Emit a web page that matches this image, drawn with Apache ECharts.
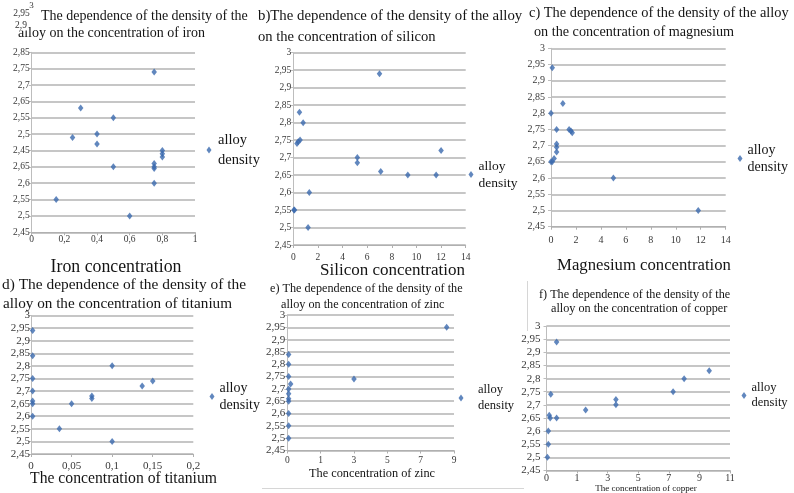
<!DOCTYPE html>
<html>
<head>
<meta charset="utf-8">
<script src="https://cdn.jsdelivr.net/npm/echarts@6/dist/echarts.min.js"></script>
<style>
  html, body { margin: 0; padding: 0; background: #fff; }
  #main { width: 794px; height: 493px; }
</style>
</head>
<body>
<div id="main"></div>
<script>
// a) iron
var ironX = [0.75, 0.3, 0.5, 0.25, 0.4, 0.4, 0.8, 0.8, 0.8, 0.5, 0.75, 0.75, 0.75, 0.75, 0.15, 0.6];
var ironY = [2.94, 2.83, 2.80, 2.74, 2.75, 2.72, 2.70, 2.69, 2.68, 2.65, 2.66, 2.65, 2.645, 2.60, 2.55, 2.50];
// b) silicon
var siliconX = [7, 0.5, 0.8, 0.3, 0.4, 0.55, 5.2, 5.2, 7.1, 9.3, 11.6, 12, 1.3, 0.05, 0.1, 1.2];
var siliconY = [2.94, 2.83, 2.80, 2.74, 2.745, 2.75, 2.70, 2.685, 2.66, 2.65, 2.65, 2.72, 2.60, 2.55, 2.55, 2.50];
// c) magnesium
var magnesiumX = [0.1, 0.95, 0, 0.45, 1.45, 1.6, 1.7, 0.45, 0.45, 0.45, 0, 0.1, 0.25, 5, 11.8];
var magnesiumY = [2.94, 2.83, 2.80, 2.75, 2.75, 2.745, 2.74, 2.705, 2.695, 2.68, 2.65, 2.65, 2.66, 2.60, 2.50];
// d) titanium
var titaniumX = [0.002, 0.002, 0.002, 0.002, 0.002, 0.002, 0.002, 0.1, 0.075, 0.075, 0.05, 0.035, 0.1, 0.137, 0.15];
var titaniumY = [2.94, 2.84, 2.75, 2.70, 2.66, 2.65, 2.60, 2.80, 2.68, 2.67, 2.65, 2.55, 2.50, 2.72, 2.74];
// e) zinc, f) copper: x counted in steps of the printed tick labels
var zincX = [0.04, 0.04, 0.04, 0.1, 0.04, 0.04, 0.04, 0.04, 0.04, 0.04, 0.04, 2.0, 4.78];
var zincY = [2.84, 2.80, 2.75, 2.72, 2.70, 2.68, 2.66, 2.65, 2.60, 2.55, 2.50, 2.74, 2.95];
var copperX = [0.33, 0.14, 0.09, 0.12, 0.33, 1.28, 2.27, 2.27, 0.06, 0.06, 0.03, 4.14, 4.5, 5.32];
var copperY = [2.94, 2.74, 2.66, 2.65, 2.65, 2.68, 2.72, 2.70, 2.60, 2.55, 2.50, 2.75, 2.80, 2.83];

// tick labels as printed
var ironYTicks = ['2,45', '2,5', '2,55', '2,6', '2,65', '2,45', '2,5', '2,55', '2,65', '2,7', '2,75', '2,85'];
var zincXTicks = ['0', '1', '3', '5', '7', '9'];
var copperXTicks = ['0', '1', '3', '5', '7', '9', '11'];

var chart = echarts.init(document.getElementById('main'));
var serif = '"Liberation Serif", "Times New Roman", serif';
var blue = '#3a69ae';
var ink = '#141414';

function comma(v) {
  return String(+(+v).toFixed(3)).replace('.', ',');
}
function pairs(xs, ys) {
  return xs.map(function (x, i) { return [x, ys[i]]; });
}

var panels = [
  { data: pairs(ironX, ironY), box: [31.7, 52.3, 163.3, 180], xMax: 1, xStep: 0.2,
    xFmt: comma, yFmt: function (v, i) { return ironYTicks[i]; },
    tick: 9.5, xTick: 9.5, xMargin: 2, yMargin: 2,
    legend: { left: 206.5, top: 130, size: 14.5, lh: 20, pad: 1.5 } },
  { data: pairs(siliconX, siliconY), box: [293.3, 52.7, 172.4, 192.3], xMax: 14, xStep: 2,
    xFmt: comma, yFmt: comma, tick: 9.5, xTick: 9.5, xMargin: 7, yMargin: 2,
    legend: { left: 468.5, top: 157.5, size: 13.5, lh: 17, pad: 0 } },
  { data: pairs(magnesiumX, magnesiumY), box: [551, 48.3, 174.7, 178.4], xMax: 14, xStep: 2,
    xFmt: comma, yFmt: comma, tick: 10, xTick: 10, xMargin: 9, yMargin: 6,
    legend: { left: 737.5, top: 141.5, size: 14, lh: 17, pad: 0 } },
  { data: pairs(titaniumX, titaniumY), box: [31, 315.5, 162.3, 138.5], xMax: 0.2, xStep: 0.05,
    xFmt: comma, yFmt: comma, tick: 11, xTick: 11, xMargin: 7, yMargin: 1,
    legend: { left: 209.5, top: 379.5, size: 14, lh: 17, pad: 0 } },
  { data: pairs(zincX, zincY), box: [287.3, 315, 166.7, 135.5], xMax: 5, xStep: 1,
    xFmt: function (v, i) { return zincXTicks[i]; }, yFmt: comma, tick: 11, xTick: 9.5, xMargin: 5, yMargin: 2,
    legend: { left: 458.5, top: 382, size: 12.5, lh: 16, pad: 9.5 } },
  { data: pairs(copperX, copperY), box: [546.5, 326.2, 183.5, 144.2], xMax: 6, xStep: 1,
    xFmt: function (v, i) { return copperXTicks[i]; }, yFmt: comma, tick: 11, xTick: 10, xMargin: 3, yMargin: 6,
    legend: { left: 741.5, top: 380.5, size: 12.5, lh: 15, pad: 0 } }
];

// title lines and axis names: [text, x, y, size, align]
var texts = [
  ['The dependence of the density of the', 41, 16.5, 14, 'left'],
  ['alloy on the concentration of iron', 18, 33, 14, 'left'],
  ['b)The dependence of the density of the alloy', 258, 16, 14.8, 'left'],
  ['on the concentration of silicon', 258, 37, 14.6, 'left'],
  ['c) The dependence of the density of the alloy', 529, 13.5, 14.4, 'left'],
  ['on the concentration of magnesium', 534, 32, 14.2, 'left'],
  ['d) The dependence of the density of the', 2, 285, 15.4, 'left'],
  ['alloy on the concentration of titanium', 3, 304, 15.2, 'left'],
  ['e) The dependence of the density of the', 270, 288.5, 12.2, 'left'],
  ['alloy on the concentration of zinc', 281, 305, 12.2, 'left'],
  ['f) The dependence of the density of the', 539, 294.5, 12.2, 'left'],
  ['alloy on the concentration of copper', 551, 308.5, 12.2, 'left'],
  ['Iron concentration', 116, 267, 17.8, 'center'],
  ['Silicon concentration', 392.5, 271, 17, 'center'],
  ['Magnesium concentration', 644, 266, 16.7, 'center'],
  ['The concentration of titanium', 123.5, 479, 15.7, 'center'],
  ['The concentration of zinc', 372, 474, 12.3, 'center'],
  ['The concentration of copper', 646, 489, 9, 'center']
];

var graphics = texts.map(function (t) {
  return {
    type: 'text', x: t[1], y: t[2], z: 10,
    style: { text: t[0], font: t[3] + 'px ' + serif, fill: ink, align: t[4], verticalAlign: 'middle' }
  };
});
// stray axis labels printed over the first title
[['3', 31.5, 6, 9], ['2,95', 21.5, 13.5, 9.5], ['2,9', 21, 25.5, 9.5]].forEach(function (t) {
  graphics.push({
    type: 'text', x: t[1], y: t[2], z: 20,
    style: { text: t[0], font: t[3] + 'px ' + serif, fill: '#333', align: 'center', verticalAlign: 'middle',
      backgroundColor: '#fff', padding: [0, 1] }
  });
});
// scan borders
graphics.push({ type: 'line', z: 1, shape: { x1: 262, y1: 488.5, x2: 524, y2: 488.5 }, style: { stroke: '#d6d6d6', lineWidth: 1 } });
graphics.push({ type: 'line', z: 1, shape: { x1: 527.5, y1: 281, x2: 527.5, y2: 331 }, style: { stroke: '#d6d6d6', lineWidth: 1 } });

var option = {
  backgroundColor: '#fff',
  animation: false,
  graphic: graphics,
  grid: panels.map(function (p) {
    return { left: p.box[0], top: p.box[1], width: p.box[2], height: p.box[3], containLabel: false, outerBoundsMode: 'none' };
  }),
  xAxis: panels.map(function (p, i) {
    return {
      type: 'value', gridIndex: i, min: 0, max: p.xMax, interval: p.xStep,
      axisLine: { show: true, onZero: false, lineStyle: { color: '#b0b0b0', width: 1 } },
      axisTick: { show: true, length: 3, lineStyle: { color: '#b0b0b0' } },
      splitLine: { show: false },
      axisLabel: { formatter: p.xFmt, margin: p.xMargin, fontFamily: serif, fontSize: p.xTick, color: '#383838',
        showMinLabel: true, showMaxLabel: true, hideOverlap: false }
    };
  }),
  yAxis: panels.map(function (p, i) {
    return {
      type: 'value', gridIndex: i, min: 2.45, max: 3, interval: 0.05,
      axisLine: { show: true, lineStyle: { color: '#bdbdbd', width: 1 } },
      axisTick: { show: true, length: 3, lineStyle: { color: '#bdbdbd' } },
      splitLine: { show: true, lineStyle: { color: '#c6c6c6', width: 2 } },
      axisLabel: { formatter: p.yFmt, margin: p.yMargin, fontFamily: serif, fontSize: p.tick, color: '#383838',
        showMinLabel: true, showMaxLabel: true, hideOverlap: false }
    };
  }),
  legend: panels.map(function (p) {
    return {
      data: ['alloy density'], left: p.legend.left, top: p.legend.top, padding: 0,
      orient: 'vertical', icon: 'diamond', itemWidth: 5, itemHeight: 7, selectedMode: false,
      formatter: 'alloy\ndensity',
      textStyle: { fontFamily: serif, fontSize: p.legend.size, lineHeight: p.legend.lh, color: ink,
        padding: [0, 0, 0, p.legend.pad] }
    };
  }),
  series: panels.map(function (p, i) {
    return {
      type: 'scatter', name: 'alloy density', xAxisIndex: i, yAxisIndex: i,
      symbol: 'diamond', symbolSize: [5.5, 7],
      itemStyle: { color: blue },
      data: p.data
    };
  })
};

chart.setOption(option);
</script>
</body>
</html>
